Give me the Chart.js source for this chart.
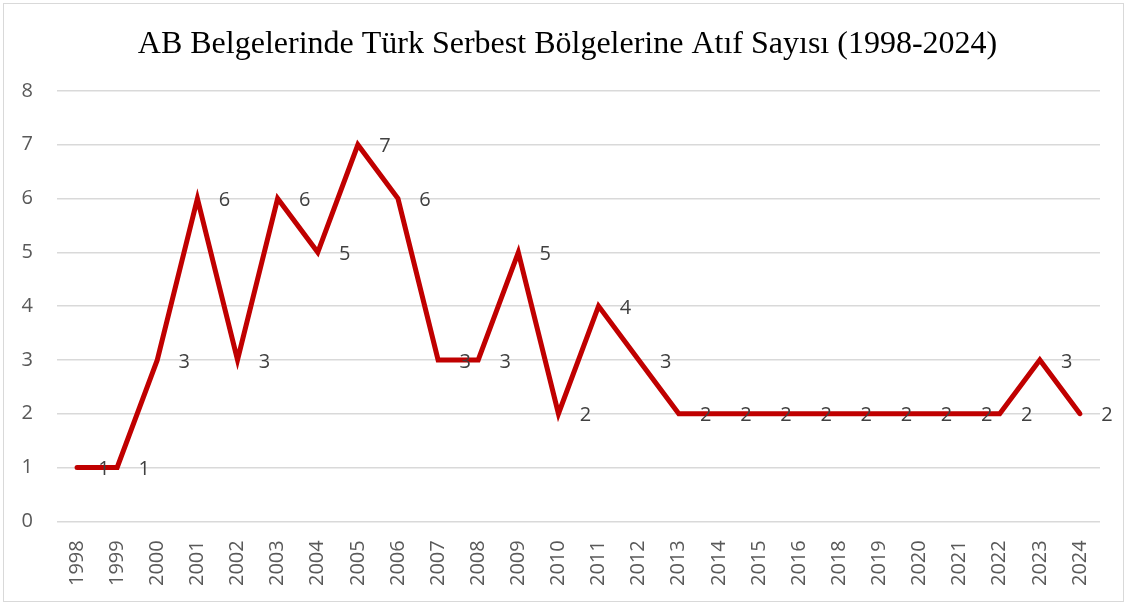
<!DOCTYPE html>
<html>
<head>
<meta charset="utf-8">
<script src="https://cdn.jsdelivr.net/npm/chart.js@4"></script>
<style>
  body { margin: 0; background: #fff; }
  #frame {
    position: absolute; left: 3px; top: 3px;
    width: 1119px; height: 597px;
    border: 1px solid #d9d9d9;
  }
</style>
</head>
<body>
<div id="frame"><canvas id="chart" width="1119" height="597"></canvas></div>
<script>
const years = ['1998', '1999', '2000', '2001', '2002', '2003', '2004', '2005', '2006',
    '2007', '2008', '2009', '2010', '2011', '2012', '2013', '2014', '2015', '2016',
    '2018', '2019', '2020', '2021', '2022', '2023', '2024'];
const counts = [1, 1, 3, 6, 3, 6, 5, 7, 6, 3, 3, 5, 2, 4, 3, 2, 2, 2, 2, 2, 2, 2, 2, 2, 3, 2];
const titleText = 'AB Belgelerinde Türk Serbest Bölgelerine Atıf Sayısı (1998-2024)';

// title centred on the whole canvas (chart's own title would centre between paddings)
const centeredTitle = {
    id: 'centeredTitle',
    afterDraw(chart) {
        const ctx = chart.ctx;
        ctx.save();
        ctx.font = '32px "Liberation Serif", serif';
        ctx.fillStyle = '#000';
        ctx.textAlign = 'center';
        ctx.textBaseline = 'middle';
        ctx.fillText(titleText, chart.width / 2 + 4, 41);
        ctx.restore();
    }
};

// value labels drawn to the right of each point
const pointLabels = {
    id: 'pointLabels',
    afterDatasetsDraw(chart) {
        const ctx = chart.ctx;
        const meta = chart.getDatasetMeta(0);
        ctx.save();
        ctx.font = '20px "Open Sans", sans-serif';
        ctx.fillStyle = '#404040';
        ctx.textAlign = 'center';
        ctx.textBaseline = 'middle';
        meta.data.forEach((pt, i) => {
            ctx.fillText(String(counts[i]), pt.x + 27, pt.y + 2);
        });
        ctx.restore();
    }
};

new Chart(document.getElementById('chart').getContext('2d'), {
    type: 'line',
    data: {
        labels: years,
        datasets: [{
            data: counts,
            borderColor: '#c00000',
            borderWidth: 5,
            borderJoinStyle: 'miter',
            borderCapStyle: 'round',
            pointRadius: 0,
            tension: 0
        }]
    },
    options: {
        responsive: false,
        animation: false,
        layout: { padding: { left: 0, right: 23, top: 87, bottom: 4 } },
        plugins: {
            legend: { display: false },
            tooltip: { enabled: false },
            title: { display: false }
        },
        scales: {
            x: {
                offset: true,
                grid: { display: false },
                border: { display: false },
                ticks: {
                    color: '#595959',
                    font: { family: '"Open Sans", sans-serif', size: 20 },
                    minRotation: 90,
                    maxRotation: 90,
                    autoSkip: false,
                    padding: 11
                }
            },
            y: {
                min: 0,
                max: 8,
                afterFit(scale) { scale.width = 53; },
                grid: { color: '#d9d9d9', lineWidth: 1.5, drawTicks: false },
                border: { display: false },
                ticks: {
                    stepSize: 1,
                    color: '#595959',
                    font: { family: '"Open Sans", sans-serif', size: 20 },
                    padding: 24
                }
            }
        }
    },
    plugins: [pointLabels, centeredTitle]
});
</script>
</body>
</html>
